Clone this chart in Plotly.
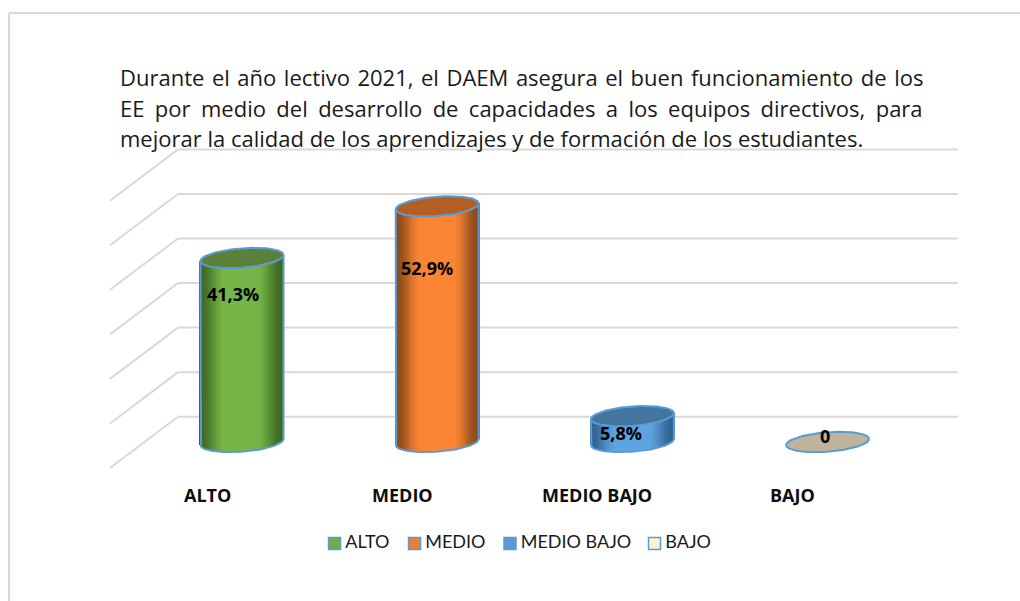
import numpy as np
import plotly.graph_objects as go

CATEGORIES = ["ALTO", "MEDIO", "MEDIO BAJO", "BAJO"]
VALUES = [41.3, 52.9, 5.8, 0.0]
VALUE_LABELS = ["41,3%", "52,9%", "5,8%", "0"]
GRID_VALUES = [0, 10, 20, 30, 40, 50, 60]
TEXT_LINES = [
    "Durante el año lectivo 2021, el DAEM asegura el buen funcionamiento de los",
    "EE por medio del desarrollo de capacidades a los equipos directivos, para",
    "mejorar la calidad de los aprendizajes y de formación de los estudiantes.",
]
EDGE_COLORS = ["#3E6823", "#8A4A1B", "#2F6290", "#BFB49A"]
MID_COLORS = ["#76B547", "#FB8534", "#5FA3E0", "#BFB49A"]
TOP_COLORS = ["#5A8039", "#B35E25", "#44759F", "#BFB49A"]
LEGEND_COLORS = ["#70AD47", "#ED7D31", "#5B9BD5", "#FFF2CC"]

W, H = 1020, 601
FONT = "Open Sans"
LEGEND_FONT = "Lato"
GRID = "#D9D9D9"
OUTLINE = "#5B9BD5"
PX_PER_CAT = 195.2
PX_PER_UNIT = 4.455
CX0, Y0 = 242.0, 442.0
xr = [(0 - CX0) / PX_PER_CAT, (W - CX0) / PX_PER_CAT]
yr = [(Y0 - H) / PX_PER_UNIT, Y0 / PX_PER_UNIT]
# cylinder geometry, in axis units
A = 41.5 / PX_PER_CAT
B = 9.7 / PX_PER_UNIT
K = 3.0 / PX_PER_UNIT
# depth of the 3D floor
WALL_X, WALL_UP = (178 - CX0) / PX_PER_CAT, 25.3 / PX_PER_UNIT
FRONT_X, FRONT_DN = (110 - CX0) / PX_PER_CAT, -26.0 / PX_PER_UNIT
RIGHT_X = (958 - CX0) / PX_PER_CAT


def hex2rgb(h):
    return np.array([int(h[i:i + 2], 16) for i in (1, 3, 5)], float)


def gradient(edge, mid, u):
    f = np.clip((1 - np.abs(u)) / 0.62, 0, 1)
    f = f * f * (3 - 2 * f)
    e, m = hex2rgb(edge), hex2rgb(mid)
    return [f"rgb({int(a)},{int(b)},{int(c)})" for a, b, c in (e + (m - e) * f[:, None])]


fig = go.Figure()
shapes = []
for v in GRID_VALUES:
    shapes.append(dict(type="line", xref="x", yref="y", layer="below",
                       x0=WALL_X, x1=RIGHT_X, y0=v + WALL_UP, y1=v + WALL_UP,
                       line=dict(color=GRID, width=2)))
    shapes.append(dict(type="line", xref="x", yref="y", layer="below",
                       x0=FRONT_X, x1=WALL_X, y0=v + FRONT_DN, y1=v + WALL_UP,
                       line=dict(color=GRID, width=2)))
# outer frame: only the top and left edges are visible in the crop
shapes.append(dict(type="line", xref="paper", yref="paper", layer="below",
                   x0=9 / W, x1=1, y0=1 - 13 / H, y1=1 - 13 / H, line=dict(color=GRID, width=2)))
shapes.append(dict(type="line", xref="paper", yref="paper", layer="below",
                   x0=9 / W, x1=9 / W, y0=0, y1=1 - 13 / H, line=dict(color=GRID, width=2)))

annotations = []
for i, (cat, val) in enumerate(zip(CATEGORIES, VALUES)):
    if val > 0:
        u = np.linspace(-1, 1, 84)
        base = -B * np.sqrt(1 - u ** 2) + K * u
        fig.add_trace(go.Bar(
            x=i + A * u, y=[val] * len(u), base=base,
            width=[2 * A / 60] * len(u),
            marker=dict(color=gradient(EDGE_COLORS[i], MID_COLORS[i], u), line=dict(width=0)),
            showlegend=False, hoverinfo="skip"))
        t = np.linspace(np.pi, 0, 60)
        ux = np.cos(t)
        sil_x = np.concatenate([[i - A], i + A * ux, [i + A]])
        sil_y = np.concatenate([[val - K], -B * np.sin(t) + K * ux, [val + K]])
        fig.add_trace(go.Scatter(x=sil_x, y=sil_y, mode="lines",
                                 line=dict(color=OUTLINE, width=2),
                                 showlegend=False, hoverinfo="skip"))
    t = np.linspace(0, 2 * np.pi, 100)
    fig.add_trace(go.Scatter(x=i + A * np.cos(t), y=val + K * np.cos(t) + B * np.sin(t),
                             mode="lines", fill="toself", fillcolor=TOP_COLORS[i],
                             line=dict(color=OUTLINE, width=2),
                             showlegend=False, hoverinfo="skip"))

# category labels
for i, cat in enumerate(CATEGORIES):
    annotations.append(dict(x=i, y=(Y0 - 495) / PX_PER_UNIT, xref="x", yref="y", text=f"<b>{cat}</b>",
                            xshift=-35, showarrow=False,
                            font=dict(family=FONT, size=18, color="#0D0D0D")))
# value labels
for i, (lab, dx, yy) in enumerate(zip(VALUE_LABELS, [-9, -10, -11, -3], [293.5, 267.5, 432.5, 435.5])):
    annotations.append(dict(x=i, y=(Y0 - yy) / PX_PER_UNIT, xref="x", yref="y", text=f"<b>{lab}</b>",
                            xshift=dx, showarrow=False,
                            font=dict(family=FONT, size=18, color="#000000")))
# description: first two lines are justified
for line, yy, ws in zip(TEXT_LINES, [77, 107.5, 137.5], [1.83, 4.7, 0]):
    annotations.append(dict(x=118 / W, y=1 - yy / H, xref="paper", yref="paper", xanchor="left",
                            yanchor="middle", showarrow=False,
                            text=f'<span style="word-spacing:{ws}px">{line}</span>',
                            font=dict(family=FONT, size=22, color="#1A1A1A")))

# legend row
legend_swatch_px = [334.5, 414.5, 510, 654.5]
for cat, col, sx in zip(CATEGORIES, LEGEND_COLORS, legend_swatch_px):
    fig.add_trace(go.Scatter(x=[(sx - CX0) / PX_PER_CAT], y=[(Y0 - 543.5) / PX_PER_UNIT],
                             mode="markers+text", text=["\u2009" + cat], textposition="middle right",
                             textfont=dict(family=LEGEND_FONT, size=18, color="#1A1A1A"),
                             marker=dict(symbol="square", size=12, color=col,
                                         line=dict(color=OUTLINE, width=1.5)),
                             name=cat, showlegend=False, hoverinfo="skip", cliponaxis=False))

fig.update_layout(
    width=W, height=H, autosize=False, margin=dict(l=0, r=0, t=0, b=0),
    paper_bgcolor="white", plot_bgcolor="white", barmode="overlay", bargap=0,
    showlegend=False, shapes=shapes, annotations=annotations,
    xaxis=dict(range=xr, visible=False, fixedrange=True),
    yaxis=dict(range=yr, visible=False, fixedrange=True),
)
fig.write_html("out.html", config=dict(displayModeBar=False),
               post_script="document.body.style.margin='0';document.body.style.overflow='hidden';")
